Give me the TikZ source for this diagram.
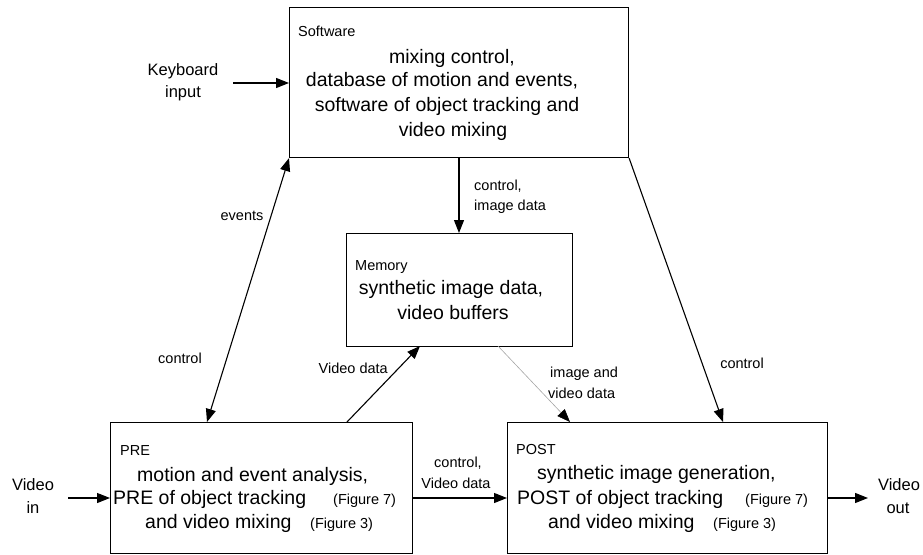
\documentclass[tikz,border=0pt]{standalone}
\usepackage{fontspec}
\setmainfont{Liberation Sans}
\usetikzlibrary{arrows.meta}
\begin{document}
\begin{tikzpicture}[x=1pt,y=-1pt,
 box/.style={draw,line width=1.1pt,inner sep=0pt,anchor=north west},
 big/.style={font=\fontsize{19.5}{23}\selectfont,inner sep=0pt,text height=0.95em,text depth=0.2em},
 small/.style={font=\fontsize{14.5}{17}\selectfont,inner sep=0pt,text height=0.95em,text depth=0.2em},
 midf/.style={font=\fontsize{16.5}{20}\selectfont,inner sep=0pt,text height=0.95em,text depth=0.2em},
 arr/.style={line width=1.1pt,-{Triangle[length=13pt,width=10pt]}},
 darr/.style={line width=1.1pt,{Triangle[length=13pt,width=10pt]}-{Triangle[length=13pt,width=10pt]}},
 garr/.style={line width=0.6pt,draw=black!35,-{Triangle[length=13pt,width=10pt,color=black]}},
]
\useasboundingbox (0,0) rectangle (923,554);
% boxes
\node[box,minimum width=339pt,minimum height=150pt] (sw) at (289,7) {};
\node[box,minimum width=226pt,minimum height=113pt] (mem) at (346,233) {};
\node[box,minimum width=302pt,minimum height=131pt] (pre) at (110,422) {};
\node[box,minimum width=320pt,minimum height=131pt] (post) at (507,422) {};
% software texts
\node[small,anchor=west] (swt) at (298,33) {Software};
\node[big] (sw1) at (452,60) {mixing control,};
\node[big] (sw2) at (442,83) {database of motion and events,};
\node[big] (sw3) at (447,108) {software of object tracking and};
\node[big] (sw4) at (453,133) {video mixing};
% memory texts
\node[small,anchor=west] (memt) at (355,267) {Memory};
\node[big] (mem1) at (451,291) {synthetic image data,};
\node[big] (mem2) at (453,316) {video buffers};
% pre texts
\node[small,anchor=west] (pret) at (120,452) {PRE};
\node[big,anchor=west] (pre1) at (137,478) {motion and event analysis,};
\node[big,anchor=west] (pre2) at (113,501) {PRE of object tracking};
\node[small,anchor=west] (pre2f) at (333,501) {(Figure 7)};
\node[big,anchor=west] (pre3) at (145,525) {and video mixing};
\node[small,anchor=west] (pre3f) at (310,525) {(Figure 3)};
% post texts
\node[small,anchor=west] (postt) at (516,451) {POST};
\node[big,anchor=west] (post1) at (537,476) {synthetic image generation,};
\node[big,anchor=west] (post2) at (517,501) {POST of object tracking};
\node[small,anchor=west] (post2f) at (745,501) {(Figure 7)};
\node[big,anchor=west] (post3) at (548,525) {and video mixing};
\node[small,anchor=west] (post3f) at (713,525) {(Figure 3)};
% outside labels
\node[midf] (kb1) at (183,72) {Keyboard};
\node[midf] (kb2) at (183,94) {input};
\node[midf] (vin1) at (33,487) {Video};
\node[midf] (vin2) at (33,510) {in};
\node[midf] (vout1) at (899,487) {Video};
\node[midf] (vout2) at (898,510) {out};
\node[small] (lev) at (242,217) {events};
\node[small] (lctl) at (180,360) {control};
\node[small,anchor=west] (lci1) at (474,187) {control,};
\node[small,anchor=west] (lci2) at (474,207) {image data};
\node[small,anchor=east] (lvd) at (388,370) {Video data};
\node[small,anchor=west] (liv1) at (550,374) {image and};
\node[small,anchor=west] (liv2) at (548,395) {video data};
\node[small] (lctr) at (742,365) {control};
\node[small] (lcv1) at (458,464) {control,};
\node[small] (lcv2) at (456,485) {Video data};
% coordinates
\coordinate (kbin) at (233,83);
\coordinate (preA) at (207,422);
\coordinate (swB) at (459,157);
\coordinate (preB) at (347,422);
\coordinate (memB) at (420,346);
\coordinate (memC) at (498,346);
\coordinate (postA) at (570,422);
\coordinate (postB) at (723,422);
\coordinate (hl) at (412,498);
\coordinate (vinA) at (68,498);
\coordinate (voutA) at (868,498);
% connectors
\draw[arr] (kbin) -- (sw.west |- kbin);
\draw[darr] (sw.south west) -- (preA);
\draw[arr] (swB) -- (mem.north -| swB);
\draw[arr] (preB) -- (memB);
\draw[garr] (memC) -- (postA);
\draw[arr] (sw.south east) -- (postB);
\draw[arr] (pre.east |- hl) -- (post.west |- hl);
\draw[arr] (vinA) -- (pre.west |- vinA);
\draw[arr] (post.east |- voutA) -- (voutA);
\end{tikzpicture}
\end{document}
